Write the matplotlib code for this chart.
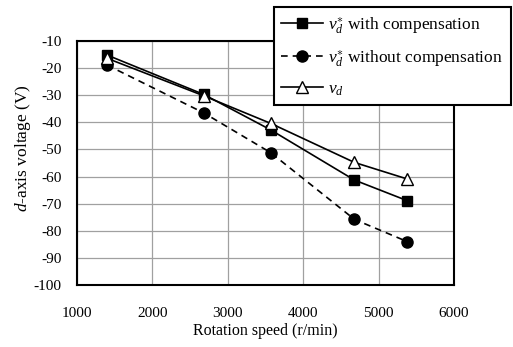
import matplotlib
matplotlib.use("Agg")
from matplotlib import pyplot as plt

plt.rcParams['font.family'] = 'Liberation Serif'
plt.rcParams['mathtext.fontset'] = 'custom'
plt.rcParams['mathtext.rm'] = 'Liberation Serif'
plt.rcParams['mathtext.it'] = 'Liberation Serif:italic'
plt.rcParams['axes.unicode_minus'] = False

# data
speed = [1400, 2680, 3570, 4680, 5380]
vd_ref_comp = [-15.2, -29.7, -42.8, -61.3, -68.9]
vd_ref_nocomp = [-18.9, -36.5, -51.2, -75.8, -84.0]
vd = [-16.4, -30.2, -40.4, -54.8, -60.9]

fig = plt.figure(figsize=(5.13, 3.47), dpi=100)
ax = fig.add_axes([77 / 513, 1 - 285 / 347, 377 / 513, 244 / 347])

ax.plot(speed, vd_ref_comp, color='black', lw=1.2, marker='s', ms=7,
        mfc='black', label=r'$v_d^{\ast}$ with compensation', zorder=3)
ax.plot(speed, vd_ref_nocomp, color='black', lw=1.2, ls=(0, (4, 3)), marker='o', ms=8,
        mfc='black', label=r'$v_d^{\ast}$ without compensation', zorder=3)
ax.plot(speed, vd, color='black', lw=1.2, marker='^', ms=9,
        mfc='white', label=r'$v_d$', zorder=4)

ax.set_xlim(1000, 6000)
ax.set_ylim(-100, -10)
ax.set_xticks(range(1000, 7000, 1000))
ax.set_yticks(range(-100, 0, 10))
ax.grid(True, color='#a0a0a0', lw=0.9)
ax.tick_params(length=0, labelsize=11)
ax.tick_params(axis='x', pad=16)
ax.tick_params(axis='y', pad=11)
for s in ax.spines.values():
    s.set_linewidth(1.5)

ax.set_xlabel('Rotation speed (r/min)', fontsize=11.5, labelpad=2)
ax.set_ylabel(r'$d$-axis voltage (V)', fontsize=12.5)
ax.yaxis.set_label_coords(-0.117, 0.56)

leg = ax.legend(loc='upper right', bbox_to_anchor=(511 / 513, 1 - 7 / 347),
                bbox_transform=fig.transFigure, fontsize=12.5, fancybox=False,
                edgecolor='black', framealpha=1, borderpad=0.45, labelspacing=0.7,
                handlelength=2.4, handletextpad=0.3, borderaxespad=0)
leg.get_frame().set_linewidth(1.5)

plt.savefig('out.png', dpi=100)
